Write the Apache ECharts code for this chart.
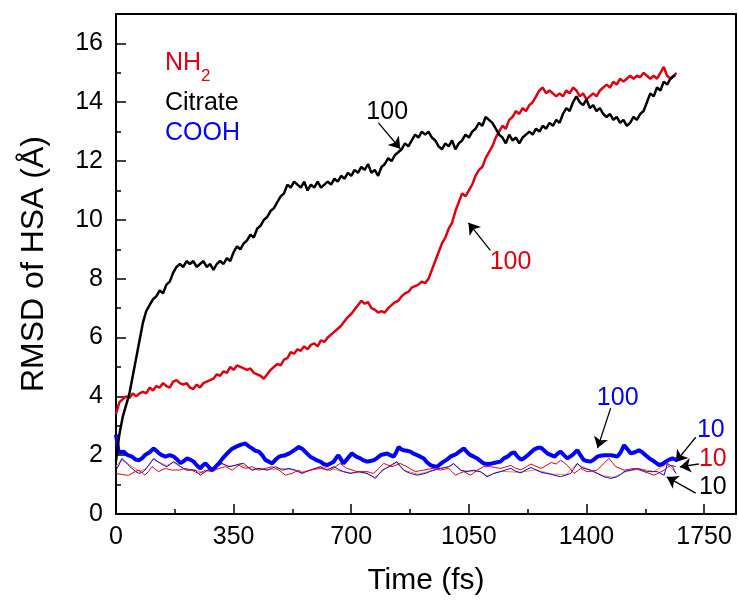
<!DOCTYPE html>
<html>
<head>
<meta charset="utf-8">
<script src="https://cdn.jsdelivr.net/npm/echarts@6/dist/echarts.min.js"></script>
<style>html,body{margin:0;padding:0;background:#fff}#c{width:738px;height:602px}</style>
</head>
<body>
<div id="c"></div>
<script>
// ---- data ----
var xMajorTicks = [0, 350, 700, 1050, 1400, 1750];
var xMinorTicks = [175, 525, 875, 1225, 1575];
var yMajorTicks = [0, 2, 4, 6, 8, 10, 12, 14, 16];
var yMinorTicks = [1, 3, 5, 7, 9, 11, 13, 15];

var citrate100 = [[0,1.8],[5,2.3],[10,2.7],[15,3.0],[20,3.3],[25,3.5],[30,3.7],[35,3.9],[40,4.1],[45,4.4],[50,4.7],[55,5.0],[60,5.3],[65,5.6],[70,5.9],[75,6.2],[80,6.5],[85,6.7],[90,6.9],[95,7.0],[100,7.1],[110,7.3],[120,7.4],[130,7.6],[140,7.5],[150,7.8],[160,7.9],[170,8.2],[180,8.4],[190,8.5],[200,8.4],[210,8.6],[220,8.5],[230,8.6],[240,8.4],[250,8.5],[260,8.6],[270,8.4],[280,8.5],[290,8.3],[300,8.5],[310,8.6],[320,8.5],[330,8.7],[340,8.6],[350,8.9],[360,9.1],[370,9.0],[380,9.2],[390,9.3],[400,9.5],[410,9.4],[420,9.7],[430,9.8],[440,10.0],[450,10.1],[460,10.3],[470,10.4],[480,10.6],[490,10.8],[500,10.9],[510,11.2],[520,11.1],[530,11.3],[540,11.2],[550,11.1],[560,11.3],[570,11.0],[580,11.2],[590,11.1],[600,11.3],[610,11.1],[620,11.2],[630,11.3],[640,11.2],[650,11.4],[660,11.3],[670,11.5],[680,11.4],[690,11.6],[700,11.5],[710,11.7],[720,11.6],[730,11.8],[740,11.7],[750,11.9],[760,11.6],[770,11.7],[780,11.5],[790,11.8],[800,11.9],[810,12.1],[820,12.0],[830,12.2],[840,12.3],[850,12.4],[860,12.6],[870,12.5],[880,12.7],[890,12.9],[900,12.8],[910,13.0],[920,12.9],[930,13.0],[940,12.8],[950,12.7],[960,12.5],[970,12.4],[980,12.6],[990,12.5],[1000,12.7],[1010,12.4],[1020,12.6],[1030,12.7],[1040,12.9],[1050,12.8],[1060,13.0],[1070,13.1],[1080,13.3],[1090,13.2],[1100,13.5],[1110,13.4],[1120,13.3],[1130,13.1],[1140,12.9],[1150,12.8],[1160,12.6],[1170,12.9],[1180,12.7],[1190,12.8],[1200,12.6],[1210,12.8],[1220,12.9],[1230,13.0],[1240,12.9],[1250,13.1],[1260,13.0],[1270,13.2],[1280,13.1],[1290,13.3],[1300,13.2],[1310,13.4],[1320,13.3],[1330,13.6],[1340,13.8],[1350,13.7],[1360,14.0],[1370,14.2],[1380,14.0],[1390,13.9],[1400,14.1],[1410,13.8],[1420,13.9],[1430,13.7],[1440,13.8],[1450,13.6],[1460,13.5],[1470,13.6],[1480,13.4],[1490,13.5],[1500,13.3],[1510,13.4],[1520,13.2],[1530,13.3],[1540,13.5],[1550,13.4],[1560,13.6],[1570,13.7],[1580,14.0],[1590,14.3],[1600,14.2],[1610,14.5],[1620,14.4],[1630,14.7],[1640,14.6],[1650,14.8],[1660,14.9],[1665,14.9]];

var nh2100 = [[0,3.4],[5,3.6],[10,3.8],[20,3.9],[30,4.0],[40,3.95],[50,4.1],[60,4.0],[70,4.1],[80,4.15],[90,4.1],[100,4.3],[110,4.2],[120,4.35],[130,4.3],[140,4.45],[150,4.35],[160,4.3],[170,4.5],[180,4.55],[190,4.45],[200,4.4],[210,4.45],[220,4.3],[230,4.25],[240,4.4],[250,4.3],[260,4.45],[270,4.5],[280,4.55],[290,4.6],[300,4.75],[310,4.7],[320,4.85],[330,4.8],[340,5.0],[350,4.9],[360,5.05],[370,5.0],[380,4.95],[390,4.9],[400,4.95],[410,4.8],[420,4.75],[430,4.7],[440,4.6],[450,4.75],[460,4.9],[470,5.0],[480,5.1],[490,5.05],[500,5.25],[510,5.3],[520,5.5],[530,5.45],[540,5.6],[550,5.55],[560,5.7],[570,5.6],[580,5.75],[590,5.8],[600,5.7],[610,5.9],[620,5.85],[630,6.0],[640,6.1],[650,6.2],[660,6.3],[670,6.4],[680,6.55],[690,6.7],[700,6.8],[710,6.95],[720,7.1],[730,7.25],[740,7.15],[750,7.2],[760,7.0],[770,6.95],[780,6.85],[790,6.9],[800,6.85],[810,7.0],[820,7.1],[830,7.2],[840,7.25],[850,7.4],[860,7.5],[870,7.55],[880,7.7],[890,7.75],[900,7.8],[910,7.9],[920,7.85],[930,8.0],[940,8.3],[950,8.6],[960,8.9],[970,9.2],[980,9.4],[990,9.7],[1000,9.9],[1010,10.3],[1020,10.6],[1030,10.9],[1040,10.8],[1050,11.0],[1060,11.2],[1070,11.5],[1080,11.7],[1090,11.8],[1100,12.1],[1110,12.3],[1120,12.5],[1130,12.8],[1140,13.0],[1150,13.2],[1160,13.1],[1170,13.4],[1180,13.5],[1190,13.7],[1200,13.6],[1210,13.8],[1220,13.7],[1230,13.9],[1240,14.0],[1250,14.2],[1260,14.4],[1270,14.5],[1280,14.3],[1290,14.4],[1300,14.3],[1310,14.2],[1320,14.3],[1330,14.2],[1340,14.4],[1350,14.3],[1360,14.5],[1370,14.4],[1380,14.2],[1390,14.3],[1400,14.1],[1410,14.2],[1420,14.3],[1430,14.2],[1440,14.4],[1450,14.5],[1460,14.6],[1470,14.5],[1480,14.7],[1490,14.6],[1500,14.8],[1510,14.7],[1520,14.8],[1530,14.9],[1540,14.8],[1550,14.9],[1560,14.85],[1570,15.0],[1580,14.9],[1590,14.8],[1600,14.9],[1610,14.8],[1620,15.0],[1630,15.2],[1640,14.9],[1650,14.8],[1660,14.9],[1668,15.0]];

var cooh100 = [[0,2.7],[8,2.1],[23,2.12],[35,2.0],[48,1.95],[58,1.85],[68,1.83],[78,1.9],[86,2.0],[100,2.1],[112,2.23],[120,2.15],[127,2.07],[137,2.0],[147,1.95],[160,2.0],[172,1.95],[182,1.85],[192,1.73],[202,1.8],[211,1.89],[221,1.85],[231,1.78],[241,1.65],[251,1.55],[258,1.65],[266,1.72],[276,1.6],[286,1.49],[296,1.6],[306,1.72],[318,1.9],[331,2.06],[343,2.2],[356,2.28],[370,2.35],[385,2.4],[395,2.3],[405,2.23],[415,2.15],[425,2.12],[435,2.0],[445,1.83],[455,1.78],[465,1.72],[475,1.85],[485,1.95],[495,1.98],[504,2.0],[514,2.05],[524,2.12],[534,2.2],[544,2.28],[556,2.2],[568,2.06],[578,1.95],[588,1.89],[598,1.82],[608,1.78],[618,1.7],[628,1.66],[638,1.72],[648,1.78],[655,1.9],[662,2.0],[670,1.85],[677,1.72],[690,1.9],[702,2.06],[715,1.95],[727,1.89],[737,1.82],[747,1.78],[757,1.8],[767,1.83],[777,1.9],[787,2.0],[797,2.03],[807,2.06],[816,2.0],[826,1.95],[834,2.1],[841,2.28],[849,2.2],[856,2.17],[866,2.15],[876,2.12],[886,2.05],[896,2.0],[906,1.95],[916,1.89],[926,1.75],[936,1.66],[946,1.62],[956,1.61],[965,1.7],[975,1.78],[985,1.85],[995,1.95],[1005,2.0],[1015,2.06],[1025,2.15],[1035,2.23],[1045,2.1],[1055,2.0],[1065,1.95],[1075,1.89],[1085,1.8],[1094,1.72],[1106,1.7],[1119,1.72],[1131,1.75],[1144,1.78],[1155,1.9],[1165,1.95],[1175,2.05],[1185,2.1],[1195,1.95],[1205,1.85],[1215,1.9],[1225,2.0],[1235,2.1],[1245,2.2],[1255,2.25],[1265,2.25],[1275,2.15],[1285,2.05],[1295,2.0],[1305,1.95],[1314,2.05],[1323,2.12],[1333,2.0],[1343,1.89],[1358,2.0],[1373,2.17],[1382,2.0],[1392,1.83],[1402,1.8],[1412,1.78],[1422,1.85],[1432,1.95],[1442,1.98],[1452,2.0],[1462,2.0],[1472,2.0],[1482,1.98],[1492,1.95],[1502,2.1],[1512,2.34],[1522,2.2],[1532,2.06],[1544,2.1],[1556,2.17],[1566,2.1],[1576,2.0],[1586,1.9],[1596,1.83],[1606,1.75],[1616,1.66],[1626,1.7],[1636,1.78],[1646,1.85],[1656,1.89],[1670,1.83]];

var cooh10 = [[0,1.49],[10,1.7],[18,1.89],[25,1.8],[33,1.72],[40,1.62],[48,1.55],[58,1.45],[68,1.38],[78,1.42],[86,1.49],[100,1.7],[112,1.89],[122,1.8],[132,1.72],[142,1.65],[152,1.61],[162,1.7],[172,1.78],[182,1.7],[192,1.61],[201,1.55],[211,1.49],[224,1.5],[236,1.49],[244,1.4],[251,1.32],[261,1.4],[271,1.49],[281,1.52],[291,1.55],[303,1.65],[316,1.72],[326,1.66],[336,1.61],[346,1.63],[356,1.66],[368,1.7],[380,1.72],[392,1.6],[405,1.49],[415,1.52],[425,1.55],[437,1.52],[450,1.49],[462,1.55],[475,1.61],[485,1.55],[495,1.49],[505,1.52],[514,1.55],[524,1.52],[534,1.49],[544,1.43],[554,1.38],[564,1.43],[578,1.49],[593,1.55],[608,1.61],[618,1.55],[628,1.49],[638,1.55],[648,1.61],[662,1.52],[677,1.44],[687,1.41],[697,1.38],[710,1.41],[722,1.44],[735,1.41],[747,1.38],[760,1.3],[772,1.21],[782,1.35],[792,1.49],[802,1.55],[812,1.61],[824,1.7],[836,1.78],[846,1.62],[856,1.49],[866,1.43],[876,1.38],[886,1.35],[896,1.32],[908,1.35],[921,1.38],[933,1.44],[946,1.49],[955,1.52],[965,1.55],[978,1.58],[990,1.61],[998,1.66],[1005,1.72],[1015,1.6],[1025,1.49],[1035,1.46],[1045,1.44],[1055,1.47],[1065,1.49],[1075,1.46],[1085,1.44],[1095,1.35],[1104,1.27],[1114,1.32],[1124,1.38],[1134,1.41],[1144,1.44],[1160,1.5],[1175,1.55],[1190,1.45],[1205,1.4],[1220,1.5],[1235,1.58],[1250,1.5],[1265,1.42],[1280,1.38],[1295,1.35],[1310,1.3],[1323,1.27],[1338,1.32],[1353,1.38],[1363,1.55],[1373,1.72],[1383,1.6],[1393,1.55],[1412,1.49],[1432,1.38],[1452,1.27],[1462,1.24],[1472,1.21],[1482,1.24],[1492,1.27],[1502,1.35],[1512,1.44],[1522,1.47],[1532,1.49],[1542,1.52],[1552,1.55],[1566,1.5],[1581,1.44],[1596,1.44],[1611,1.44],[1621,1.38],[1631,1.32],[1641,1.72],[1648,1.66],[1656,1.61],[1666,1.38]];

var citrate10 = [[0,1.6],[15,1.85],[30,1.75],[50,1.6],[70,1.45],[90,1.55],[110,1.85],[130,1.75],[150,1.65],[170,1.75],[190,1.62],[210,1.5],[240,1.48],[260,1.4],[290,1.55],[315,1.7],[340,1.62],[370,1.7],[400,1.52],[430,1.55],[460,1.5],[490,1.55],[520,1.52],[550,1.42],[580,1.5],[610,1.6],[640,1.55],[670,1.45],[700,1.4],[740,1.4],[770,1.25],[800,1.52],[835,1.75],[860,1.48],[900,1.35],[940,1.48],[990,1.6],[1005,1.7],[1030,1.47],[1080,1.45],[1105,1.3],[1145,1.45],[1200,1.42],[1250,1.5],[1300,1.35],[1340,1.35],[1370,1.7],[1410,1.5],[1450,1.3],[1480,1.25],[1520,1.45],[1560,1.53],[1600,1.45],[1640,1.7],[1666,1.4]];

var nh210 = [[0,1.38],[15,1.35],[30,1.32],[38,1.32],[48,1.38],[58,1.45],[68,1.49],[78,1.4],[86,1.32],[97,1.45],[107,1.61],[117,1.52],[127,1.44],[137,1.5],[147,1.55],[157,1.52],[167,1.49],[177,1.5],[187,1.49],[197,1.52],[206,1.55],[216,1.52],[226,1.49],[236,1.43],[246,1.38],[256,1.43],[266,1.49],[276,1.46],[286,1.44],[296,1.5],[306,1.55],[316,1.58],[326,1.61],[336,1.55],[346,1.49],[356,1.58],[366,1.66],[375,1.6],[385,1.55],[395,1.58],[405,1.61],[415,1.55],[425,1.49],[435,1.52],[445,1.55],[455,1.58],[465,1.61],[475,1.55],[485,1.49],[495,1.4],[504,1.32],[514,1.35],[524,1.38],[534,1.44],[544,1.49],[554,1.4],[564,1.44],[578,1.49],[593,1.52],[608,1.55],[623,1.52],[638,1.49],[652,1.6],[667,1.72],[677,1.63],[687,1.55],[702,1.5],[717,1.44],[732,1.44],[747,1.44],[757,1.41],[767,1.38],[782,1.55],[797,1.72],[809,1.66],[821,1.61],[833,1.66],[846,1.72],[856,1.66],[866,1.61],[878,1.52],[891,1.44],[903,1.47],[916,1.49],[928,1.52],[941,1.55],[953,1.52],[965,1.49],[978,1.52],[990,1.55],[1000,1.44],[1010,1.32],[1022,1.38],[1035,1.44],[1045,1.38],[1055,1.32],[1065,1.4],[1075,1.49],[1085,1.55],[1094,1.61],[1104,1.61],[1114,1.61],[1129,1.58],[1144,1.55],[1160,1.6],[1175,1.65],[1190,1.55],[1205,1.5],[1220,1.6],[1235,1.7],[1250,1.62],[1265,1.55],[1280,1.65],[1295,1.75],[1310,1.7],[1323,1.83],[1333,1.75],[1343,1.66],[1353,1.52],[1363,1.38],[1373,1.46],[1383,1.55],[1392,1.5],[1402,1.44],[1417,1.46],[1432,1.49],[1450,1.7],[1467,1.89],[1477,1.75],[1487,1.61],[1500,1.55],[1512,1.49],[1527,1.52],[1541,1.55],[1556,1.5],[1571,1.44],[1586,1.38],[1601,1.32],[1616,1.4],[1631,1.49],[1641,1.58],[1651,1.66],[1666,1.61]];

// annotations: label text, colour, label position, arrow start, arrow end (data units)
var annLabels = ['100', '100', '100', '10', '10', '10'];
var annColors = ['#000000', '#e0000f', '#0000ff', '#0000ff', '#e0000f', '#000000'];
var annTextPos = [[807,13.68],[1174,8.55],[1493,3.94],[1770,2.85],[1776,1.87],[1776,0.92]];
var annArrowFrom = [[781,13.3],[1114,8.96],[1472,3.6],[1725,2.61],[1734,1.70],[1725,0.71]];
var annArrowTo = [[846,12.42],[1049,9.9],[1433,2.24],[1666,1.77],[1678,1.6],[1639,1.26]];

var legendNames = ['NH', 'Citrate', 'COOH'];
var legendColors = ['#e0000f', '#000000', '#0000ff'];

// ---- chart ----
var FONT = '"Liberation Sans", Arial, sans-serif';
var chart = echarts.init(document.getElementById('c'), null, {renderer: 'canvas'});

function lineSeries(name, data, color, width, z) {
  return {name: name, type: 'line', data: data, showSymbol: false, symbol: 'none',
    lineStyle: {color: color, width: width}, itemStyle: {color: color}, z: z,
    animation: false, silent: true, clip: true};
}

var markLines = [], markPoints = [];
for (var i = 0; i < annLabels.length; i++) {
  markLines.push([{coord: annArrowFrom[i], symbol: 'none'}, {coord: annArrowTo[i], symbol: 'arrow', symbolSize: 11}]);
  markPoints.push({coord: annTextPos[i], value: annLabels[i], symbol: 'rect', symbolSize: 1,
    itemStyle: {color: 'rgba(0,0,0,0)'},
    label: {show: true, position: 'inside', formatter: annLabels[i], color: annColors[i],
      fontSize: 25, fontFamily: FONT}});
}

var series = [
  lineSeries('Citrate 10', citrate10, '#ff8c00', 1, 2),
  lineSeries('COOH 10', cooh10, '#0000ff', 1, 3),
  lineSeries('NH2 10', nh210, '#e0000f', 1, 4),
  lineSeries('COOH 100', cooh100, '#0000ff', 4, 5),
  lineSeries('NH2 100', nh2100, '#e0000f', 2.5, 6),
  lineSeries('Citrate 100', citrate100, '#000000', 2.5, 7)
];
series[5].markLine = {silent: true, animation: false, symbol: ['none', 'arrow'], symbolSize: 11,
  label: {show: false}, lineStyle: {color: '#000', width: 1.3, type: 'solid'}, data: markLines};
series[5].markPoint = {silent: true, animation: false, data: markPoints};

var graphics = [];
var legendY = [65, 104.5, 135];
for (var j = 0; j < legendNames.length; j++) {
  graphics.push({type: 'text', left: 165, top: legendY[j] - 14, silent: true,
    style: {text: legendNames[j], fill: legendColors[j], fontSize: 25, fontFamily: FONT}});
}
graphics.push({type: 'text', left: 201, top: 68, silent: true,
  style: {text: '2', fill: legendColors[0], fontSize: 17, fontFamily: FONT}});

function plainNum(v) { return String(v); }

var option = {
  backgroundColor: '#fff',
  animation: false,
  grid: {left: 116, right: 2, top: 14, bottom: 88, show: true, borderColor: '#000', borderWidth: 2, backgroundColor: 'transparent'},
  xAxis: [{
    type: 'value', min: 0, max: 1845, interval: 350,
    name: 'Time (fs)', nameLocation: 'middle', nameGap: 52,
    nameTextStyle: {fontSize: 30, color: '#000', fontFamily: FONT},
    axisLine: {show: true, lineStyle: {color: '#000', width: 2}},
    axisTick: {show: true, inside: true, length: 10, lineStyle: {color: '#000', width: 1.5}, customValues: xMajorTicks},
    axisLabel: {color: '#000', fontSize: 25, fontFamily: FONT, margin: 11, customValues: xMajorTicks, formatter: plainNum},
    splitLine: {show: false}
  }, {
    type: 'value', min: 0, max: 1845, position: 'bottom',
    axisLine: {show: false},
    axisTick: {show: true, inside: true, length: 5, lineStyle: {color: '#000', width: 1.5}, customValues: xMinorTicks},
    axisLabel: {show: false}, splitLine: {show: false}
  }],
  yAxis: [{
    type: 'value', min: 0, max: 17, interval: 2,
    name: 'RMSD of HSA (Å)', nameLocation: 'middle', nameGap: 66,
    nameTextStyle: {fontSize: 32, color: '#000', fontFamily: FONT},
    axisLine: {show: true, lineStyle: {color: '#000', width: 2}},
    axisTick: {show: true, inside: true, length: 10, lineStyle: {color: '#000', width: 1.5}, customValues: yMajorTicks},
    axisLabel: {color: '#000', fontSize: 25, fontFamily: FONT, margin: 13, customValues: yMajorTicks, formatter: plainNum},
    splitLine: {show: false}
  }, {
    type: 'value', min: 0, max: 17, position: 'left',
    axisLine: {show: false},
    axisTick: {show: true, inside: true, length: 5, lineStyle: {color: '#000', width: 1.5}, customValues: yMinorTicks},
    axisLabel: {show: false}, splitLine: {show: false}
  }],
  graphic: graphics,
  series: series
};
chart.setOption(option);
</script>
</body>
</html>
